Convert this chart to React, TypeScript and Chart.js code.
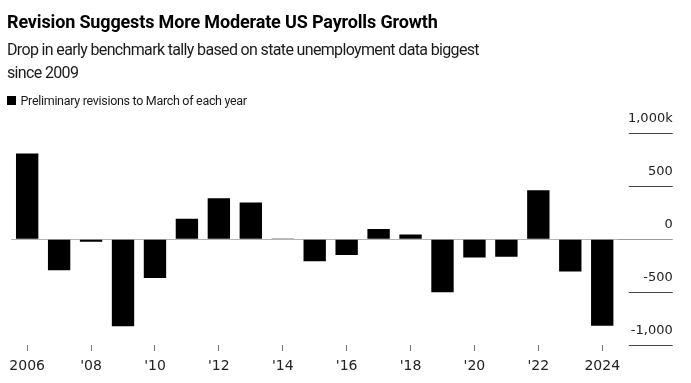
import React, { useEffect, useRef } from "react";
import { Chart, registerables } from "chart.js";

Chart.register(...registerables);

const years = [
  "2006", "2007", "2008", "2009", "2010", "2011", "2012", "2013", "2014", "2015",
  "2016", "2017", "2018", "2019", "2020", "2021", "2022", "2023", "2024",
];
// Preliminary benchmark revisions, thousands of jobs
const revisions = [
  810, -293, -24, -824, -366, 192, 386, 347, 7, -208,
  -150, 95, 43, -501, -173, -166, 462, -306, -818,
];
const xTickLabels = ["2006", "'08", "'10", "'12", "'14", "'16", "'18", "'20", "'22", "2024"];
const yTickValues = [-1000, -500, 0, 500, 1000];
const yTickLabels = ["-1,000", "-500", "0", "500", "1,000k"];

const TITLE = "Revision Suggests More Moderate US Payrolls Growth";
const SUB1 = "Drop in early benchmark tally based on state unemployment data biggest";
const SUB2 = "since 2009";
const LEGEND = "Preliminary revisions to March of each year";

export default function App() {
  const ref = useRef<HTMLCanvasElement | null>(null);

  useEffect(() => {
    if (!ref.current) return;
    const chart = new Chart(ref.current, {
      type: "bar",
      data: {
        labels: years,
        datasets: [
          {
            label: LEGEND,
            data: revisions,
            backgroundColor: "#000000",
            borderWidth: 0,
            barPercentage: 0.7,
            categoryPercentage: 1,
          },
        ],
      },
      options: {
        animation: false,
        responsive: true,
        maintainAspectRatio: false,
        layout: { padding: { top: 133.3, left: 11.2, right: 18.3, bottom: 0 } },
        plugins: {
          legend: { display: false },
          title: { display: false },
          tooltip: { enabled: false },
        },
        scales: {
          x: {
            type: "category",
            offset: true,
            border: { display: false },
            grid: {
              display: true,
              offset: false,
              drawOnChartArea: false,
              drawTicks: true,
              tickLength: 6,
              tickColor: "#777777",
              tickWidth: 1,
            },
            ticks: {
              autoSkip: false,
              maxRotation: 0,
              minRotation: 0,
              padding: 7.3,
              color: "#222222",
              font: { family: "DejaVu Sans", size: 14 },
              callback: (_v: any, i: number) => (i % 2 === 0 ? xTickLabels[i / 2] : null),
            },
            afterFit: (s: any) => {
              s.height = 38;
            },
          },
          y: {
            position: "right",
            min: -1000,
            max: 1000,
            border: { display: false },
            afterBuildTicks: (s: any) => {
              s.ticks = yTickValues.map((v) => ({ value: v }));
            },
            grid: {
              drawOnChartArea: true,
              drawTicks: true,
              tickLength: 54.5,
              lineWidth: 1,
              color: (c: any) => (c.tick && c.tick.value === 0 ? "#b4b4b4" : "rgba(0,0,0,0)"),
              borderDash: (c: any) => (c.tick && c.tick.value === 0 ? [0, 4.8, 3000] : []),
              tickColor: (c: any) => (c.tick && c.tick.value === 0 ? "#9a9a9a" : "#444444"),
              tickBorderDash: (c: any) => (c.tick && c.tick.value === 0 ? [] : [0, 10.8, 200]),
            },
            ticks: {
              crossAlign: "far",
              labelOffset: -14.5,
              padding: 0,
              color: "#222222",
              font: { family: "DejaVu Sans", size: 13 },
              callback: (v: any) => {
                const k = yTickValues.indexOf(Number(v));
                return k >= 0 ? yTickLabels[k] : null;
              },
            },
            afterFit: (s: any) => {
              s.width = 54.5;
            },
          },
        },
      } as any,
    });
    return () => chart.destroy();
  }, []);

  const textBase: React.CSSProperties = {
    position: "fixed",
    whiteSpace: "nowrap",
    fontFamily: "Roboto, 'Liberation Sans', sans-serif",
    margin: 0,
  };

  return (
    <div>
      <div style={{ position: "fixed", left: 0, top: 0, width: 691, height: 383 }}>
        <canvas ref={ref} />
      </div>
      <div
        style={{
          ...textBase,
          left: 7,
          top: 10.6,
          fontSize: 18,
          fontWeight: 700,
          color: "#000",
          letterSpacing: "-0.15px",
        }}
      >
        {TITLE}
      </div>
      <div
        style={{
          ...textBase,
          left: 7,
          top: 38,
          fontSize: 16,
          lineHeight: "23px",
          color: "#1a1a1a",
          letterSpacing: "-0.65px",
        }}
      >
        {SUB1}
        <br />
        {SUB2}
      </div>
      <div
        style={{
          position: "fixed",
          left: 7,
          top: 95.7,
          width: 9,
          height: 9,
          background: "#000",
        }}
      />
      <div
        style={{
          ...textBase,
          left: 20.5,
          top: 92.5,
          fontSize: 12.5,
          color: "#1a1a1a",
          letterSpacing: "-0.3px",
        }}
      >
        {LEGEND}
      </div>
    </div>
  );
}
